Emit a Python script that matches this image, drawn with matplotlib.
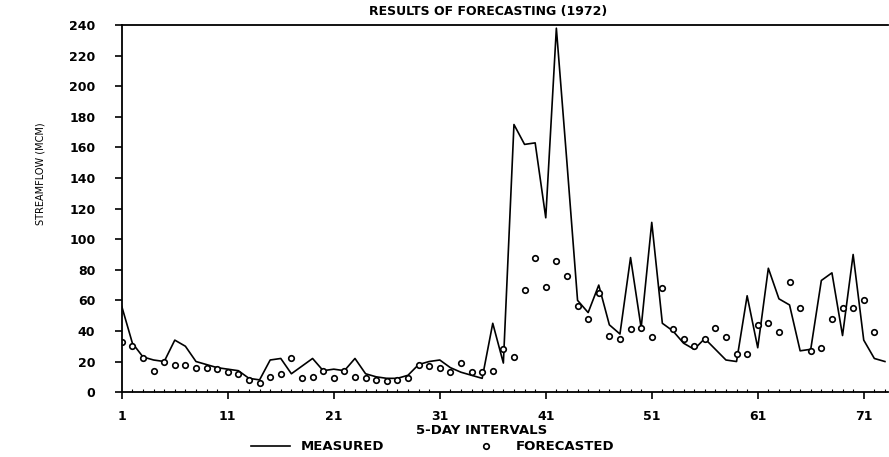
import numpy as np
import matplotlib.pyplot as plt
from matplotlib.ticker import MultipleLocator

# 5-day interval index
intervals = np.arange(1, 74)

# measured streamflow (MCM)
measured = [56, 32, 23, 21, 20, 34, 30, 20, 18, 16,
            15, 14, 9, 8, 21, 22, 12, 17, 22, 14,
            15, 14, 22, 12, 10, 9, 9, 11, 18, 20,
            21, 16, 13, 11, 9, 45, 19, 175, 162, 163,
            114, 238, 150, 60, 52, 70, 44, 38, 88, 42,
            111, 45, 40, 32, 28, 35, 28, 21, 20, 63,
            29, 81, 61, 57, 27, 28, 73, 78, 37, 90,
            34, 22, 20]

# forecasted streamflow (MCM), intervals 1..72
forecast = [33, 30, 22, 14, 20, 18, 18, 16, 16, 15,
            13, 12, 8, 6, 10, 12, 22, 9, 10, 14,
            9, 14, 10, 9, 8, 7, 8, 9, 18, 17,
            16, 13, 19, 13, 13, 14, 28, 23, 67, 88,
            69, 86, 76, 56, 48, 65, 37, 35, 41, 42,
            36, 68, 41, 35, 30, 35, 42, 36, 25, 25,
            44, 45, 39, 72, 55, 27, 29, 48, 55, 55,
            60, 39]

xticks = [1, 11, 21, 31, 41, 51, 61, 71]
yticks = np.arange(0, 241, 20)

plt.rcParams['font.family'] = 'DejaVu Sans'

fig = plt.figure(figsize=(8.89, 4.57), dpi=100)
ax = fig.add_axes([0.137, 0.142, 0.862, 0.803])

ax.plot(intervals, measured, color='black', lw=1.2, label='MEASURED')
ax.plot(np.arange(1, len(forecast) + 1), forecast, linestyle='none',
        marker='o', ms=4, mfc='white', mec='black', mew=1.2,
        label='FORECASTED')

ax.set_xlim(1, 73.3)
ax.set_ylim(0, 240)
ax.set_xticks(xticks)
ax.set_yticks(yticks)
ax.xaxis.set_minor_locator(MultipleLocator(1))
ax.tick_params(axis='both', which='major', direction='out', length=5,
               width=1.2, labelsize=9)
ax.tick_params(axis='x', which='minor', direction='in', length=2, width=0.8)
for lab in ax.get_xticklabels() + ax.get_yticklabels():
    lab.set_fontweight('bold')
ax.tick_params(axis='y', pad=14)
ax.tick_params(axis='x', pad=8)

ax.spines['right'].set_visible(False)
for s in ['left', 'top', 'bottom']:
    ax.spines[s].set_linewidth(1.3)

fig.text(0.549, 0.975, 'RESULTS OF FORECASTING (1972)', ha='center',
         va='center', fontsize=9, fontweight='bold')
fig.text(0.542, 0.058, '5-DAY INTERVALS', ha='center', va='center',
         fontsize=9.5, fontweight='bold')
fig.text(0.045, 0.62, 'STREAMFLOW (MCM)', rotation=90, ha='center',
         va='center', fontsize=7)

fig.legend(loc='center', bbox_to_anchor=(0.487, 0.022), ncol=2,
           frameon=False, handlelength=2.9, columnspacing=6.3,
           prop={'size': 9.5, 'weight': 'bold'})

fig.savefig('out.png', dpi=100)
